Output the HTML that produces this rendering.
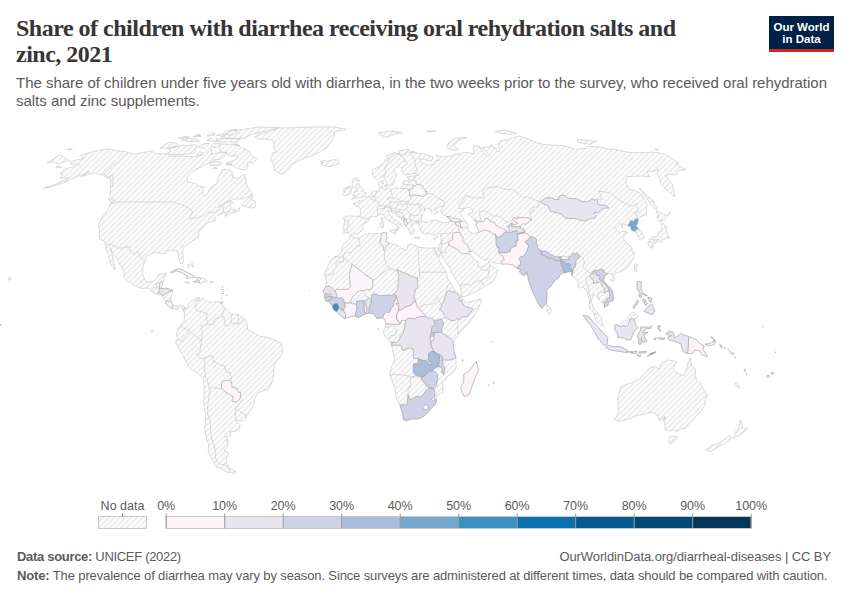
<!DOCTYPE html>
<html><head><meta charset="utf-8">
<style>
html,body{margin:0;padding:0;background:#fff;}
body{width:850px;height:600px;position:relative;overflow:hidden;font-family:"Liberation Sans",sans-serif;}
.t{position:absolute;white-space:nowrap;}
#title{left:16px;font-family:"Liberation Serif",serif;font-weight:bold;font-size:24px;letter-spacing:-0.5px;color:#363636;line-height:25.6px;}
#sub{left:16px;font-size:15px;letter-spacing:-0.02px;color:#5a5a5a;line-height:18px;}
#logo{position:absolute;left:769px;top:16px;width:65px;height:33px;background:#002147;border-bottom:3px solid #ce261e;color:#fff;font-weight:bold;font-size:11.5px;line-height:12px;text-align:center;}
svg{position:absolute;left:0;top:0;}
.leg{font-size:12.5px;line-height:15px;color:#5b5b5b;text-align:center;}
.foot{font-size:13px;line-height:16px;color:#5b5b5b;}
</style></head>
<body>
<div class="t" id="title" style="top:16.3px">Share of children with diarrhea receiving oral rehydration salts and<br>zinc, 2021</div>
<div class="t" id="sub" style="top:73.7px">The share of children under five years old with diarrhea, in the two weeks prior to the survey, who received oral rehydration<br>salts and zinc supplements.</div>
<div id="logo"><div style="padding-top:4.7px">Our World<br>in Data</div></div>
<svg width="850" height="600" viewBox="0 0 850 600">
<defs>
<pattern id="hatch" patternUnits="userSpaceOnUse" width="4" height="4" patternTransform="rotate(-45 2 2)">
<rect x="-1" y="-1" width="6" height="6" fill="#fff"/>
<path d="M -1,2 l 6,0" stroke="#dcdcdc" stroke-width="1"/>
</pattern>
</defs>
<path d="M69.8,161.7L75.6,160.1L83.5,158.7L82.7,157.8L80.7,155.5L83.5,154.3L95.1,151.2L107.4,148.9L113.4,149.9L117.6,151.0L125.8,151.6L127.9,152.6L134.5,154.1L140.9,152.9L151.7,150.8L155.6,153.2L166.2,154.3L172.7,156.3L179.9,155.8L189.3,156.7L196.1,156.7L201.6,155.2L209.7,147.8L211.6,149.3L211.5,154.5L219.9,152.3L226.4,152.5L225.5,154.9L220.6,159.4L214.4,159.6L210.8,162.4L203.3,165.4L200.9,167.0L191.2,172.4L187.2,177.7L187.5,182.1L195.3,183.3L199.3,186.5L204.3,186.7L202.2,192.0L204.1,196.2L206.9,194.5L210.1,188.2L216.9,183.3L217.3,179.7L220.3,173.6L222.2,169.4L227.6,169.4L232.0,171.3L232.6,177.2L237.6,178.4L244.6,173.9L245.9,180.9L247.4,186.5L251.2,192.0L252.9,194.5L249.9,195.7L242.8,199.0L234.8,199.0L228.0,201.3L223.2,203.3L217.3,207.4L219.9,205.9L225.2,203.3L229.9,201.5L233.2,202.6L230.8,204.8L230.5,208.9L236.3,210.2L240.2,207.4L239.2,210.7L230.1,213.6L225.6,216.4L225.5,213.6L229.7,211.5L224.2,212.5L224.1,212.8L216.9,215.6L214.7,218.5L215.3,220.5L211.8,221.6L205.9,223.6L203.6,227.8L201.3,228.3L198.8,233.0L198.7,237.7L192.6,240.9L189.2,242.9L184.3,246.9L182.7,250.3L183.5,260.5L182.3,263.9L180.7,264.1L178.4,257.9L178.4,253.4L176.7,251.3L172.5,250.3L168.1,250.0L164.5,253.9L160.7,253.2L154.2,252.4L151.7,253.4L145.9,257.3L144.9,262.0L144.5,262.0L142.9,267.0L142.5,273.6L144.6,279.6L147.8,282.5L153.7,281.1L157.5,278.0L158.4,274.9L166.1,273.3L166.4,274.6L164.6,277.0L164.2,278.8L162.9,281.9L162.4,284.3L161.5,286.9L159.3,288.2L159.9,288.2L160.5,288.5L161.4,288.7L166.5,288.2L172.7,290.6L171.2,297.1L170.6,301.3L171.1,301.0L172.1,303.6L172.9,304.7L175.4,306.3L180.1,304.9L184.8,307.0L183.5,311.0L182.4,308.3L180.0,306.8L177.8,308.3L177.9,310.4L174.6,308.3L172.0,308.6L170.7,307.8L165.6,303.6L166.1,300.8L163.7,298.4L162.8,296.1L162.2,295.3L161.7,294.7L157.8,294.7L158.6,292.1L156.5,294.0L153.4,293.2L151.9,291.9L148.3,287.7L142.4,288.7L135.0,285.9L129.6,282.7L123.3,276.4L124.9,273.6L122.9,269.1L119.2,263.9L116.1,257.9L113.3,253.9L109.8,247.4L111.8,253.2L112.7,257.9L114.6,266.5L114.9,269.9L111.1,264.9L108.5,257.1L108.5,255.2L106.1,250.0L105.4,244.8L104.0,240.9L99.7,239.5L99.2,234.1L99.4,230.9L98.7,226.5L98.6,224.2L102.1,217.4L108.1,209.2L110.2,203.6L113.8,203.3L114.0,202.0L115.1,201.3L113.2,198.2L110.1,195.7L110.7,188.7L112.8,186.3L110.2,187.0L110.9,180.9L110.3,178.4L106.6,177.5L104.0,176.0L101.9,174.8L97.5,174.6L94.7,172.9L88.6,174.3L80.7,176.7L89.6,171.7L78.4,176.0L68.4,180.9L58.8,184.5L50.4,187.0L43.5,188.2L54.9,184.5L68.8,178.0L64.1,178.0L60.0,178.0L63.2,175.5L59.9,173.6L65.4,168.9L74.1,166.6L79.5,164.0L71.1,164.2ZM185.0,307.3L186.1,308.9L188.1,305.2L189.4,302.6L191.1,301.0L192.5,300.5L197.8,297.4L199.4,297.6L199.3,298.9L198.5,301.0L198.4,301.8L202.3,298.1L204.5,299.7L209.0,302.1L215.9,302.1L220.5,301.8L223.7,307.6L224.8,307.6L229.3,312.0L231.1,314.4L236.1,314.1L238.4,314.9L241.9,316.7L243.9,318.8L245.3,319.3L247.5,324.6L247.5,329.8L250.9,331.1L260.2,336.3L266.0,337.1L274.1,339.5L281.8,344.2L282.6,351.0L281.3,355.4L274.7,363.8L273.8,369.0L273.7,376.1L271.8,382.9L268.2,390.0L265.5,390.0L258.7,392.6L254.3,399.1L254.7,402.0L252.4,407.0L250.2,410.9L248.2,413.8L246.1,418.0L243.4,421.1L240.5,421.1L236.8,420.1L235.3,418.7L235.1,419.3L235.6,420.3L238.6,423.4L240.2,424.8L239.4,429.2L235.5,431.3L230.3,431.8L229.8,431.5L230.7,436.0L225.1,436.5L228.9,440.9L226.4,440.9L227.8,442.2L227.8,447.3L224.1,449.9L228.6,453.0L226.7,457.6L226.2,464.1L228.1,465.9L228.0,466.6L228.7,467.6L236.3,471.9L233.3,473.8L230.5,472.4L227.9,472.6L221.4,468.9L216.3,466.4L212.2,460.1L209.0,453.7L208.1,451.2L208.8,444.8L207.1,440.9L205.8,434.4L204.5,426.6L205.0,426.1L205.8,416.1L204.4,408.3L203.7,401.7L204.3,391.5L203.7,382.1L203.0,378.2L198.8,374.3L190.3,369.0L188.1,365.1L186.0,361.2L182.4,354.7L178.8,348.1L175.4,342.1L177.6,338.7L178.2,337.6L176.1,335.6L177.9,328.5L178.8,327.2L180.9,326.1L180.9,325.1L184.0,320.6L184.7,314.1L183.5,311.0ZM434.3,247.9L429.1,248.2L423.1,247.7L418.2,247.1L415.9,245.8L411.3,243.7L407.3,245.8L406.2,250.5L402.8,249.2L396.4,245.0L392.0,243.7L388.2,242.9L386.9,241.4L385.1,241.1L386.6,239.0L387.2,237.7L385.8,235.1L387.0,232.8L385.3,233.3L384.4,232.2L381.6,233.3L379.9,233.3L373.8,233.8L369.5,233.5L365.2,234.3L361.7,236.4L358.2,238.0L355.4,237.7L351.5,235.9L350.4,236.2L348.1,240.9L346.4,241.9L342.8,244.8L341.7,250.3L340.5,253.9L337.4,256.0L334.2,256.8L330.5,261.3L327.2,267.5L324.2,275.4L326.2,278.8L326.6,282.5L325.3,287.2L322.9,291.3L324.5,293.7L324.6,294.2L324.7,294.5L324.6,295.4L324.4,297.4L324.7,297.9L326.2,301.0L328.5,301.2L329.7,302.3L331.5,304.9L332.4,306.1L332.6,307.6L334.2,310.2L336.7,311.7L338.1,313.3L342.2,316.7L345.2,318.3L351.5,316.5L353.8,315.9L355.8,316.5L358.2,317.5L362.5,315.4L365.8,313.8L366.7,313.6L368.5,313.2L369.2,313.1L370.8,313.1L373.4,313.6L375.7,316.7L376.9,318.6L380.3,318.0L382.6,317.8L384.9,319.3L385.6,322.5L385.6,323.8L385.6,326.9L384.7,328.8L383.1,331.6L384.9,336.3L388.4,339.7L390.5,342.4L392.5,342.2L391.1,344.2L391.6,345.5L392.9,352.0L393.4,352.8L394.3,358.6L393.7,362.8L391.6,366.4L389.9,373.0L389.9,375.1L391.4,379.5L393.6,384.7L395.5,389.7L395.8,395.2L396.6,399.4L399.8,404.6L401.3,409.6L402.7,413.5L403.3,418.5L403.4,419.7L406.6,420.8L411.1,419.0L419.0,418.7L424.3,416.1L428.1,412.2L431.8,408.0L435.2,404.6L436.6,400.0L436.6,397.8L437.0,395.2L443.0,392.6L442.8,387.4L442.0,381.6L446.0,379.2L447.3,376.6L452.0,373.5L455.7,369.0L456.2,367.7L456.0,361.2L455.9,357.3L454.2,352.0L453.6,347.6L453.0,342.9L453.5,342.0L454.7,340.3L455.6,338.2L457.7,335.6L459.0,334.1L461.2,330.8L467.7,324.6L472.6,318.0L476.0,312.8L479.9,304.9L481.2,302.6L480.8,298.9L476.0,300.2L466.5,302.6L462.4,298.7L461.7,301.1L462.3,299.8L462.2,299.5L460.3,297.1L460.9,295.8L458.1,293.2L453.3,289.0L450.7,282.7L447.5,278.5L446.5,272.2L443.2,267.3L440.4,262.3L438.6,258.4L435.3,251.6ZM434.3,247.9L438.5,247.9L439.9,244.0L440.0,243.2L441.2,244.3L441.5,242.7L440.6,240.9L441.3,239.0L440.7,236.2L440.9,235.9L441.3,234.1L439.8,234.1L437.8,233.5L433.5,235.4L429.3,233.3L425.7,234.1L422.0,233.0L420.5,229.4L418.9,226.5L419.0,224.9L419.3,223.6L418.1,223.1L418.7,220.8L417.9,223.0L413.9,223.1L413.0,225.2L411.6,223.6L411.1,225.2L412.7,227.8L414.6,230.7L412.8,234.3L409.9,233.5L408.6,230.9L408.7,229.4L407.3,227.8L405.7,226.0L404.2,223.9L404.1,220.5L405.2,218.6L403.9,220.3L403.0,219.5L402.8,216.9L401.9,218.7L401.0,218.5L397.3,216.1L395.5,211.8L394.2,213.6L391.4,212.3L391.5,210.7L391.1,208.4L391.1,210.7L391.1,211.0L388.4,211.2L388.6,213.6L391.2,215.9L393.5,219.5L396.9,220.3L398.8,222.3L401.2,223.6L402.2,225.7L399.6,224.2L398.2,226.5L399.6,228.1L397.4,230.7L396.5,229.6L397.6,227.0L396.2,224.9L393.1,223.1L390.5,221.8L389.0,220.8L386.1,218.7L384.5,216.1L381.5,213.8L378.2,215.6L375.6,217.2L374.3,216.7L372.6,216.4L369.7,217.4L369.7,219.0L369.7,219.2L367.7,221.6L364.9,222.6L364.7,223.4L362.4,226.5L363.4,228.6L361.9,229.9L360.8,231.5L358.2,233.8L353.5,233.8L351.3,235.4L350.9,235.6L349.4,234.3L347.0,232.5L345.9,233.0L343.6,233.0L344.1,229.1L342.6,228.3L343.8,225.2L344.6,222.1L344.2,220.3L344.2,220.0L343.5,217.7L345.4,216.4L348.4,215.9L352.6,216.1L356.7,216.4L359.2,216.4L359.9,216.1L360.5,213.3L360.7,211.0L360.5,209.2L358.5,206.6L355.9,205.4L353.4,204.6L353.3,203.6L355.9,202.6L359.0,203.1L359.2,200.3L360.6,201.0L363.2,200.8L366.0,199.0L366.8,197.0L368.0,196.7L369.6,196.0L370.9,194.7L372.2,192.5L372.4,192.0L374.7,191.0L377.1,191.2L379.6,190.5L379.9,189.7L379.6,187.2L378.6,185.8L378.6,182.6L383.0,180.4L382.9,181.6L382.5,184.0L383.6,183.3L381.9,186.3L382.4,188.2L382.8,188.5L384.2,189.5L386.3,189.0L389.1,188.0L390.6,189.7L394.1,188.7L396.8,187.5L399.1,188.5L401.0,188.2L401.6,187.2L403.5,185.3L403.1,184.3L402.9,182.6L403.8,181.1L405.6,180.4L408.7,182.1L408.9,179.7L408.7,178.9L406.8,177.2L408.8,176.3L414.9,176.0L418.8,175.1L416.4,174.3L415.6,173.2L409.0,174.3L405.5,175.3L403.8,173.9L401.7,171.3L401.7,167.5L407.6,163.1L405.1,161.2L401.6,161.7L400.1,164.2L399.1,165.9L397.0,167.3L394.2,169.1L394.4,172.4L394.5,173.2L397.1,174.3L396.6,176.5L394.8,178.4L394.2,180.9L394.2,182.8L393.2,184.3L390.5,185.8L388.0,185.5L387.3,184.5L385.4,180.4L384.0,178.4L384.2,177.2L382.5,176.7L382.8,175.1L380.7,177.2L378.0,179.4L376.2,179.7L373.6,177.5L372.7,173.9L372.1,171.3L372.4,169.6L374.2,168.9L376.4,167.7L379.9,166.1L381.5,164.2L384.7,161.0L387.7,157.8L386.7,155.6L389.9,154.5L394.7,152.5L398.2,153.8L399.4,151.2L402.0,150.3L405.3,149.5L408.9,149.7L411.3,152.3L414.4,151.0L412.9,152.3L414.6,152.3L418.2,153.2L423.4,153.8L432.8,156.7L432.3,160.1L430.7,160.6L423.5,159.6L418.8,158.5L423.6,163.1L428.6,165.4L434.4,164.0L435.1,160.8L439.3,160.3L436.1,154.9L441.4,156.9L444.8,156.9L452.8,155.6L454.7,154.3L460.5,154.3L463.2,152.9L463.6,152.1L474.5,153.6L474.3,151.8L473.0,148.6L474.3,145.6L479.5,146.3L480.8,149.3L484.8,154.1L488.3,156.9L489.7,155.2L485.1,150.8L481.5,148.0L485.8,147.1L490.1,146.5L490.8,144.4L494.2,147.5L496.7,148.6L496.7,151.8L500.0,150.8L498.0,144.4L499.9,141.3L508.6,139.3L518.7,135.9L525.0,137.7L538.1,143.3L543.3,144.4L553.0,145.2L561.3,145.4L567.4,146.5L575.4,149.7L579.8,148.6L586.3,148.6L588.3,146.5L598.6,146.9L607.5,148.6L615.6,149.7L629.6,152.5L638.3,152.7L646.0,152.3L655.9,152.3L665.7,154.3L679.0,163.1L675.6,163.8L686.1,169.4L678.6,170.5L676.7,174.8L669.3,174.8L665.3,175.3L668.5,179.7L672.4,184.0L673.0,188.2L675.0,197.0L665.9,189.5L660.2,183.3L660.6,180.1L656.9,173.6L658.4,168.9L654.0,171.3L646.8,171.3L649.4,176.7L643.0,176.0L634.0,176.3L627.0,176.7L626.2,179.7L625.9,183.3L629.3,189.2L638.1,191.5L640.6,193.2L644.8,199.5L647.6,204.6L646.3,207.1L646.4,214.8L639.5,217.2L638.0,219.2L637.8,222.6L636.0,226.0L638.5,228.8L643.7,235.6L643.9,238.0L639.2,239.8L637.4,235.6L636.2,232.0L634.5,231.2L631.8,230.4L630.3,226.5L627.8,225.5L622.2,223.9L622.6,228.3L620.7,223.1L618.6,225.2L616.5,227.5L615.0,228.1L618.4,231.7L619.8,232.5L622.8,230.9L627.1,232.0L624.3,235.4L623.1,238.8L627.1,243.5L630.9,246.6L632.6,249.0L631.2,250.5L633.8,251.8L634.1,256.6L631.8,260.5L628.6,266.0L626.3,268.8L621.7,270.9L621.1,271.5L616.4,272.8L613.2,276.7L611.3,273.6L609.7,273.6L607.5,273.6L604.8,275.4L603.8,278.8L603.7,280.9L606.0,284.0L608.6,286.6L610.2,287.7L612.5,291.9L613.6,297.9L613.0,300.5L609.0,302.3L608.1,304.9L604.3,307.3L604.5,303.6L603.2,302.6L601.0,302.3L599.3,299.5L597.0,297.1L594.3,294.7L593.3,294.5L592.2,297.1L591.1,302.3L592.9,305.7L594.1,309.4L596.5,311.7L598.5,313.6L601.7,318.0L601.8,322.0L603.8,326.1L602.8,326.4L601.9,325.9L598.6,323.3L597.0,322.0L595.0,318.0L594.4,315.7L593.8,312.8L589.9,308.9L589.2,304.9L589.6,304.2L589.4,299.2L586.6,291.1L583.1,286.6L580.1,288.2L578.3,287.2L578.1,281.4L575.4,278.8L573.8,277.2L572.2,275.6L571.3,273.8L572.4,272.2L570.5,271.5L567.6,272.0L564.4,272.8L562.2,273.3L560.1,274.9L558.9,277.7L556.2,279.3L552.8,283.5L550.9,286.4L548.5,288.2L546.5,290.6L547.1,295.5L546.5,299.7L546.7,302.9L544.8,305.5L541.5,308.6L538.3,303.6L536.1,298.9L534.6,296.1L531.7,289.3L528.5,280.1L527.5,274.9L526.9,271.7L526.1,274.3L522.8,275.4L519.0,271.5L521.0,269.9L517.5,268.3L515.1,267.0L513.5,264.9L508.0,263.9L503.0,264.1L501.4,263.9L499.2,263.6L492.1,262.6L488.9,258.9L485.1,260.2L480.3,257.9L476.0,253.9L472.8,251.1L470.7,251.5L470.6,251.6L469.5,251.5L469.7,252.9L470.9,255.2L471.1,255.2L473.8,259.2L475.3,260.7L477.8,261.5L479.0,263.9L477.3,265.2L477.8,265.4L478.2,265.7L479.2,266.5L480.2,267.0L485.4,265.7L487.3,263.6L488.7,262.3L489.2,261.0L489.8,264.7L495.1,268.1L498.1,270.9L495.7,276.2L494.4,280.1L491.7,282.7L486.2,285.3L484.2,286.4L482.3,288.5L476.3,291.6L466.2,296.3L462.6,296.6L461.9,296.6L460.6,289.3L460.7,286.9L460.0,285.6L456.2,280.1L451.7,273.6L449.8,268.1L446.1,263.1L442.3,257.1L440.8,252.9L440.8,252.6L440.5,252.6L439.4,257.1L435.3,251.6ZM351.6,199.4L355.0,198.6L357.0,197.7L360.4,197.5L365.8,196.5L366.3,193.0L363.6,192.2L363.2,190.5L362.0,188.2L360.1,186.5L359.2,184.8L357.3,184.5L358.2,183.3L359.6,180.6L356.4,180.4L357.4,178.2L353.7,178.2L352.0,180.9L352.3,183.3L352.2,186.3L353.5,187.5L356.6,187.2L356.4,189.0L357.3,191.2L354.0,191.2L354.7,192.5L354.7,194.0L352.7,195.2L356.6,196.0L354.0,196.7ZM351.2,194.0L351.1,190.7L350.9,189.2L352.3,188.2L351.1,186.5L348.9,186.7L348.6,186.3L346.6,187.7L343.6,189.0L344.0,191.2L344.3,193.0L342.4,194.5L344.2,195.7L347.2,195.0L350.4,194.0ZM323.0,165.6L325.7,165.9L330.0,166.8L335.6,164.7L339.1,162.8L337.9,160.3L335.4,159.6L330.9,160.3L327.3,161.5L325.0,159.9L320.2,161.9L323.9,163.1L320.8,163.5ZM379.2,134.4L385.6,137.3L390.0,136.3L393.9,134.4L402.1,132.5L391.5,130.8L386.0,131.8L378.9,132.5ZM447.8,148.6L455.3,150.5L458.4,150.1L454.1,145.4L458.7,140.3L466.0,137.7L467.2,137.3L454.3,138.3L448.2,143.3L447.2,147.5ZM501.8,133.5L510.3,134.4L516.4,133.5L504.3,129.9L495.1,131.6ZM577.6,142.3L590.1,144.4L596.3,141.3L577.6,139.3ZM655.3,209.7L657.5,208.4L652.1,202.0L654.8,202.0L645.6,194.5L640.5,188.7L639.6,188.7L645.8,197.0L651.2,204.6ZM648.9,239.8L651.2,237.2L657.4,236.7L658.3,232.2L661.1,230.9L661.9,226.5L659.9,223.1L661.7,221.6L663.6,223.9L666.2,226.5L666.2,230.4L668.4,235.6L669.7,238.2L666.9,237.5L665.7,239.0L661.9,239.3L661.0,242.2L657.7,239.5L653.4,239.8ZM658.8,221.3L660.9,220.5L664.8,220.0L667.4,216.7L665.1,214.8L656.2,211.0L658.7,216.1L656.7,216.9ZM647.8,241.9L649.6,241.1L652.8,243.5L653.0,247.9L650.7,248.2L647.8,243.5ZM653.9,243.5L657.8,241.4L656.2,240.1L653.2,240.9ZM634.3,269.6L634.9,263.9L637.3,264.4L636.4,272.2ZM610.1,279.6L613.8,277.2L615.1,278.5L612.3,282.2ZM547.0,312.0L546.9,304.9L550.2,307.6L551.6,311.5L548.7,314.4ZM582.8,315.2L588.0,316.2L594.7,323.3L602.8,332.4L607.8,337.6L607.0,345.0L604.0,345.2L598.5,339.0L594.8,332.4L590.6,325.4ZM605.5,347.6L609.3,345.5L613.2,346.8L619.0,346.5L622.8,347.9L626.8,349.9L626.6,352.6L618.7,351.3L611.8,350.2L606.2,347.9ZM614.8,325.1L616.2,324.6L619.5,325.6L624.0,321.4L628.8,316.7L630.5,314.1L633.9,312.0L638.0,316.2L635.4,318.3L634.5,318.8L635.2,324.6L638.0,327.4L634.5,331.1L632.1,336.3L630.8,339.7L627.4,340.3L624.0,337.9L619.4,337.6L617.5,337.4L617.2,332.9L614.9,329.8ZM638.7,344.2L641.0,344.2L641.3,337.6L643.4,342.4L646.9,341.6L643.7,335.0L648.1,332.4L642.6,332.4L646.1,328.5L650.7,328.5L651.8,325.9L649.5,327.2L640.3,327.2L640.8,329.8L639.1,332.4L637.4,336.3L639.0,339.0ZM665.7,333.7L669.2,331.1L673.1,332.2L674.8,338.4L680.7,333.7L688.7,336.6L696.6,339.7L699.9,343.7L703.9,345.5L702.9,349.4L707.9,356.7L701.7,354.7L699.3,350.7L694.8,349.9L692.9,353.3L687.6,353.6L682.7,351.3L680.9,343.7L674.6,341.3L669.6,340.3L667.9,337.1L671.4,335.8ZM637.2,281.4L641.1,281.4L641.3,285.3L641.0,289.3L642.9,293.2L647.4,295.8L645.8,295.8L641.3,293.4L639.2,292.7L637.1,287.9ZM644.2,311.5L647.4,307.6L651.7,304.2L654.8,310.7L652.5,314.9L649.0,313.3ZM647.0,356.5L650.7,353.3L656.2,351.8L651.8,354.4L650.9,354.7L648.1,356.7ZM476.2,361.2L478.5,370.3L475.5,376.4L473.0,383.4L468.9,394.7L464.5,396.5L461.5,391.3L461.0,386.8L463.8,381.6L463.8,374.3L469.3,371.1L472.5,366.4ZM690.6,357.8L691.7,366.4L695.4,369.0L695.7,376.1L696.6,380.3L700.9,383.4L703.0,388.7L706.9,395.7L705.3,401.7L705.2,404.6L701.3,410.9L696.4,415.9L694.1,418.5L689.1,423.4L686.1,427.9L681.2,428.9L676.2,432.1L673.6,429.7L669.3,431.3L665.1,429.2L665.0,425.3L664.8,421.1L665.4,417.4L662.3,421.9L665.1,416.1L658.9,421.1L657.9,415.6L652.2,412.2L644.9,414.0L635.3,416.1L629.9,418.5L620.1,421.4L614.3,419.8L616.1,417.4L618.0,413.5L618.5,407.0L617.6,397.8L620.9,386.8L627.1,384.0L632.0,382.9L639.3,379.5L641.3,376.9L644.9,373.0L650.3,367.7L655.1,366.4L659.3,369.0L661.1,363.8L663.2,362.2L667.3,359.9L675.0,361.2L676.8,361.7L674.7,365.1L673.0,369.0L676.9,373.0L683.9,375.6L686.7,369.0L687.9,362.5ZM670.1,436.2L677.4,436.7L672.8,442.7L669.6,443.7L668.5,440.4ZM740.1,419.8L741.9,423.4L742.1,427.9L747.3,428.4L743.8,432.1L738.9,435.2L733.0,438.5L732.3,437.8L735.9,434.1L734.4,432.6L738.4,429.2L740.0,422.7ZM729.9,435.7L730.9,438.8L726.0,442.2L723.5,444.2L718.6,446.0L714.4,449.6L709.6,451.4L705.7,449.9L710.9,446.0L720.3,442.2L724.8,439.1ZM282.2,174.6L278.7,173.2L274.3,170.1L273.4,165.4L272.2,161.9L270.2,160.1L271.6,157.4L272.8,152.9L277.5,151.8L274.7,150.1L273.7,146.5L273.8,142.1L271.5,139.7L265.2,138.9L258.8,139.3L254.8,136.7L258.4,134.4L266.0,132.5L271.9,130.8L278.0,128.0L294.0,127.7L308.1,127.0L321.9,126.9L334.0,126.9L345.9,129.4L334.1,131.6L334.8,135.4L332.9,138.1L331.9,141.3L328.9,144.4L327.4,147.5L323.5,149.7L318.3,152.7L312.1,155.8L304.5,158.1L296.6,161.9L291.8,164.5L289.5,167.7ZM242.0,205.6L249.3,207.9L254.4,207.9L255.9,204.6L255.2,201.3L251.6,199.8L252.9,195.7L248.1,198.2L243.1,203.3ZM112.6,203.6L110.6,202.0L108.2,198.2L111.8,198.7L113.0,201.5ZM210.4,165.4L219.0,165.9L221.7,163.1L215.4,160.8L210.3,163.1ZM170.8,272.6L173.2,270.7L177.1,269.2L179.8,269.1L183.4,270.4L187.0,272.5L191.5,274.6L194.8,277.0L192.3,277.7L186.6,277.9L188.1,276.6L186.2,275.5L183.5,273.6L181.1,272.1L178.8,271.7L176.6,270.7L174.2,271.7L172.3,272.5ZM193.6,281.5L195.8,281.3L197.6,280.9L197.6,279.3L196.3,278.1L197.8,277.6L200.2,278.0L204.0,278.3L205.7,279.3L207.5,281.1L203.9,281.7L202.5,282.2L200.3,283.8L199.7,282.7L197.9,282.2L195.7,282.2L194.1,281.9ZM184.8,281.7L189.5,282.7L187.6,283.2ZM210.1,281.4L213.7,281.9L212.7,282.7L209.9,282.7ZM256.9,159.4L254.6,157.2L250.7,153.6L249.7,151.2L246.5,149.7L242.0,148.0L239.1,146.5L236.3,144.0L228.0,144.4L220.6,143.8L218.7,148.6L220.2,151.8L226.4,152.5L226.9,154.1L230.5,156.3L237.5,155.8L237.6,158.5L232.7,160.8L226.1,163.1L232.4,164.2L225.9,164.7L233.5,165.4L237.2,168.4L243.5,170.1L246.8,168.9L248.0,166.6L247.7,161.9L252.4,163.1ZM194.5,152.7L195.9,150.3L194.0,149.7L198.0,146.5L195.2,144.6L186.7,145.8L182.6,145.2L179.0,146.3L172.9,146.7L168.8,148.4L169.3,150.5L170.8,151.4L167.1,153.4L171.0,154.5L179.3,154.7L186.6,154.1ZM176.3,146.5L168.2,148.6L160.0,148.0L165.3,144.4L169.5,142.3L176.9,143.3L179.1,144.8ZM199.7,141.3L191.4,141.7L181.5,140.3L188.1,138.3L197.5,139.3ZM189.4,137.3L179.6,138.9L178.3,137.7L187.8,136.3ZM212.1,141.3L207.0,140.3L210.9,138.3L212.8,139.3ZM237.8,142.1L219.1,142.1L216.1,139.1L228.0,137.9L240.4,139.3ZM244.3,138.3L227.2,138.7L220.7,136.3L232.0,130.8L260.3,126.9L278.8,127.7L264.3,131.3L251.0,134.4ZM232.3,135.4L221.6,134.4L226.3,130.8L236.5,129.4L237.0,132.5ZM204.9,148.6L198.6,147.5L201.0,144.4L209.2,143.3ZM216.4,147.5L210.1,146.5L214.1,143.1L219.9,143.8ZM201.6,155.2L196.1,154.7L199.4,151.8L202.4,152.3ZM414.1,237.5L420.2,237.5L419.6,238.2L414.4,237.7ZM433.4,238.8L434.8,237.2L438.2,236.4L437.1,238.5L435.0,239.3ZM389.7,230.4L396.5,229.6L395.7,233.8L389.9,231.5ZM380.4,222.9L383.8,222.3L383.5,227.5L381.2,227.8ZM381.0,217.7L382.9,217.9L382.5,221.6L381.1,220.3ZM384.2,186.0L387.1,184.5L386.7,187.0L384.6,186.7ZM655.1,149.3L656.4,148.6L658.6,149.9ZM69.6,148.6L72.6,149.3L67.4,149.9ZM60.3,154.3L64.0,157.4L67.7,159.0L68.6,160.6L63.5,161.9L57.7,164.2L55.0,162.4L51.3,161.9L47.0,163.1ZM57.8,165.9L61.6,167.0L59.5,167.5L56.0,167.0ZM9.1,277.0L11.3,278.8L8.7,280.4ZM638.7,294.5L641.6,295.3L641.2,297.9L639.5,296.8ZM632.9,307.8L637.5,300.2L638.4,302.3L633.9,308.3ZM648.2,297.1L651.6,298.4L650.9,303.1L648.5,299.7ZM643.1,298.9L646.0,300.2L644.6,302.1L643.3,302.3ZM645.2,301.0L647.3,303.1L646.1,306.0L644.6,303.9ZM490.9,341.8L491.3,342.1L491.1,341.6ZM638.9,352.0L646.3,351.3L645.7,352.8L639.3,353.1ZM632.0,352.0L637.1,351.3L636.5,353.1L632.1,353.3ZM626.7,351.0L629.5,351.8L628.2,352.8ZM629.9,351.5L631.8,351.3L631.0,353.1ZM636.8,354.7L641.1,355.7L638.9,356.7ZM657.6,325.9L660.6,325.9L658.8,328.5L660.9,331.6L658.6,329.5ZM658.4,337.6L665.1,338.4L663.2,339.7L659.0,339.0ZM653.8,338.2L656.8,338.4L655.1,340.0ZM705.1,344.2L710.2,343.7L713.9,340.8L714.4,344.2L708.9,346.0ZM710.6,336.9L715.1,340.8L716.1,342.4L712.9,337.6ZM719.7,344.2L722.5,346.8L721.0,347.6ZM729.9,351.8L733.1,353.6L731.2,354.7ZM732.8,352.0L734.2,354.7L733.2,354.9ZM744.5,369.6L745.4,370.6L744.4,371.1ZM735.6,382.6L740.5,387.9L739.3,388.4L734.8,384.0ZM767.1,375.6L769.8,375.8L768.7,377.7L767.0,377.1ZM771.3,372.4L773.9,373.0L771.8,374.3ZM151.6,330.3L153.2,331.1L152.0,332.4ZM327.8,256.3L328.8,256.8L328.2,257.3ZM308.8,290.0L309.5,290.6L309.0,290.8ZM493.3,382.1L494.2,382.4L493.4,383.4ZM488.1,384.5L489.4,385.0L488.4,385.8ZM462.2,359.6L462.9,360.9L462.2,360.9ZM187.8,266.2L189.0,264.1L188.1,267.8ZM192.3,263.1L190.3,264.7L193.1,267.0ZM220.7,301.8L223.0,301.5L222.5,303.4L220.6,303.4ZM0.1,324.4L1.2,324.8L0.3,325.6ZM378.0,328.8L378.6,329.0L378.0,329.7ZM221.9,287.2L223.3,286.9L222.5,287.9ZM222.5,289.0L223.0,289.3L222.6,290.0ZM223.0,291.0L223.7,291.3L223.1,292.1ZM223.3,292.9L223.5,293.4L223.1,294.0ZM226.3,295.0L226.7,295.4L226.3,295.7ZM221.2,297.8L221.6,297.9L221.2,298.4ZM221.8,284.9L222.3,285.1L221.9,285.3ZM723.8,347.1L726.2,348.9L724.8,349.2ZM727.6,349.2L731.0,351.5L730.3,352.0ZM734.0,356.5L736.1,358.1L734.3,357.5ZM745.1,368.5L745.8,369.8L744.9,372.2L743.9,370.3ZM746.5,373.0L747.1,374.3L746.3,375.8ZM775.5,351.8L775.9,352.3L775.4,352.6ZM762.5,325.9L763.0,326.4L762.5,326.7ZM-33.1,364.9L-29.9,366.2L-32.2,365.9ZM219.7,135.4L216.2,135.8L218.9,133.9L220.6,134.2ZM213.7,135.4L206.8,136.1L211.8,132.9L215.2,133.7ZM201.3,136.3L193.2,136.7L196.6,135.4L200.8,135.6ZM200.4,134.8L196.6,135.4L199.6,133.9ZM217.1,141.7L213.4,141.5L215.5,140.3L218.0,140.1ZM239.7,145.6L233.8,145.0L237.3,143.8ZM217.4,168.4L212.6,168.9L214.6,167.3ZM426.5,130.9L431.6,131.1L436.2,130.6L433.3,131.6L429.2,131.8ZM667.9,215.9L669.4,213.6L670.0,211.5Z" fill="url(#hatch)" stroke="#c2c2c2" stroke-width="0.6"/>
<path d="M358.2,238.0L359.1,239.8L359.3,242.9L360.4,245.8L356.6,246.3L354.8,249.0L350.6,252.6L347.2,252.4L343.7,254.5L343.6,257.4M343.6,257.4L334.2,256.8M343.6,257.4L343.6,258.4M343.6,258.4L352.1,264.4M343.6,258.4L343.6,261.8L336.1,261.8L335.9,268.5L333.4,270.3L333.6,274.0L324.2,275.4M352.1,264.4L349.4,274.1L350.4,286.6L348.1,289.3L339.0,289.5L336.9,289.0L335.1,291.2M335.1,291.2L332.6,288.5L329.9,286.4L326.5,286.6L325.3,287.2M352.1,264.4L365.7,274.9L372.7,279.7M372.7,279.7L372.7,285.6L371.2,289.3L366.0,289.8L363.5,290.8M363.5,290.8L361.9,290.3L358.4,291.3L354.7,294.5L352.9,296.6L351.1,300.0L350.4,302.5M350.4,302.5L348.7,303.1L346.9,303.1L344.1,302.9M344.1,302.9L343.9,300.2L341.9,297.6L338.7,298.7L336.8,297.4M336.8,297.4L336.6,294.5L335.1,291.2M336.8,297.4L334.3,297.4L331.6,296.7M331.6,296.7L328.1,296.6L324.4,297.4M331.6,296.7L331.5,298.4L331.1,299.2L329.7,299.7L328.5,301.2M324.6,294.2L327.5,293.7L329.8,294.0L331.4,294.4L331.4,294.7M331.4,294.7L329.8,295.1L327.5,294.9L324.6,295.4M332.4,306.1L334.2,303.9L337.2,303.6L338.4,305.5L338.6,307.6L338.8,307.8M338.8,307.8L338.6,308.9L337.6,310.4L336.7,311.7M338.8,307.8L340.9,307.8L341.6,310.2L343.5,310.0M343.5,310.0L343.9,311.7L345.7,314.4L345.2,318.3M343.5,310.0L344.6,307.6L345.3,305.7L344.1,302.9M350.4,302.5L352.0,303.9L354.5,303.8L356.7,304.8M356.7,304.8L357.2,308.1L355.6,313.3L355.8,316.5M356.7,304.8L356.8,302.3L356.5,301.0L360.7,301.0L363.0,300.8M363.0,300.8L362.8,301.8L363.9,303.1L364.3,307.0L364.4,311.5L365.8,313.8M363.0,300.8L365.1,301.0M365.1,301.0L364.8,302.9L366.7,306.0L366.8,309.9L366.7,313.6M365.1,301.0L366.7,300.0L368.5,298.7M363.5,290.8L363.8,293.2L365.2,295.0L365.3,296.3L368.0,296.8L368.5,298.7M368.5,298.7L370.1,298.4L371.3,299.2M371.3,299.2L371.3,302.9L369.9,306.0L369.2,308.9L369.2,313.1M371.3,299.2L372.4,294.5L375.1,293.8L378.6,295.5L382.5,295.8L385.9,295.1L391.7,295.3L394.2,293.9M394.2,293.9L396.2,291.9L398.0,287.9L398.4,277.7L399.2,275.1L397.4,272.2L396.9,269.6M394.2,293.9L395.6,295.6M395.6,295.6L396.5,297.9L395.2,299.7L393.6,303.1L393.2,306.3L391.1,308.1L390.2,311.2L388.6,312.8L386.5,311.7L384.9,313.3L383.3,315.4L382.6,317.8M395.6,295.6L397.2,298.1L397.5,301.0L398.7,303.6L395.9,303.9L398.7,305.7L398.7,310.2M398.7,310.2L396.9,313.6L396.7,315.9L396.5,318.3L397.9,320.9L400.4,324.0M400.4,324.0L397.7,324.6L393.7,324.0M393.7,324.0L389.1,323.9M389.1,323.9L385.6,323.8M389.1,323.9L389.1,327.2L385.6,326.9M393.7,324.0L393.5,326.4L396.5,329.8L396.3,333.7L394.6,335.8L390.7,335.3L389.8,337.1L388.4,339.7M398.7,310.2L401.0,309.9L405.6,306.8L407.0,306.3L411.3,304.9L413.1,302.1L415.6,301.3M415.6,301.3L414.4,297.6L413.5,296.1L414.8,293.2L415.3,289.0L417.9,288.7L417.5,278.8M417.5,278.8L396.9,269.6M396.9,269.6L395.1,270.7L390.0,268.3M390.0,268.3L380.0,275.1L376.2,278.9L372.7,279.7M390.0,268.3L385.9,264.9L385.2,260.5L384.2,257.9L384.8,252.9L384.1,250.8M384.1,250.8L385.6,249.0L385.7,246.9L388.3,245.0L388.2,242.9M384.1,250.8L383.0,245.8L379.5,242.9L380.9,239.3L381.2,236.2L381.6,233.3M418.2,247.1L418.2,251.3L419.5,272.2M419.5,272.2L419.7,277.5L417.5,277.5L417.5,278.8M419.5,272.2L446.5,272.2M415.6,301.3L417.1,307.0M417.1,307.0L419.4,306.5L424.0,304.9L427.2,304.7L431.1,304.2L433.8,303.6L436.7,298.4L438.1,297.9L439.3,301.8L441.5,304.9M441.5,304.9L443.7,301.5L444.7,296.8L446.6,292.4M446.6,292.4L447.2,285.9L450.7,282.7M446.6,292.4L449.7,290.8L452.3,291.6L454.8,291.9L458.6,295.3L460.3,297.1M460.3,297.1L461.9,296.6M460.3,297.1L459.0,299.5L459.5,301.0L461.7,301.1M461.7,301.1L462.3,299.8M461.7,301.1L463.3,305.2L465.7,306.5L473.3,308.9L466.8,316.7L462.2,317.0L459.7,319.4M459.7,319.4L457.7,322.5L457.7,332.2L459.0,334.1M459.7,319.4L457.2,318.8L454.2,320.6L450.7,320.4L447.9,318.3L445.9,317.8M441.5,304.9L441.1,307.8L439.0,309.4L440.7,309.9L443.0,312.5L444.4,315.4L445.9,317.8M445.9,317.8L442.4,317.8L441.3,318.8M441.3,318.8L437.4,320.4L434.6,320.1L434.1,320.6M434.1,320.6L431.3,317.8L428.6,318.6L426.2,316.5M426.2,316.5L424.1,314.1L421.3,311.5L418.7,308.1L417.1,307.0M426.2,316.5L423.0,316.7L420.7,316.5L416.1,317.8L414.7,319.1L410.3,318.3L406.9,318.6L406.0,320.6M406.0,320.6L403.4,320.1L401.3,320.6L400.4,324.0M406.0,320.6L404.8,325.9L404.1,329.8L403.0,333.7L400.4,335.8L399.7,339.0L398.3,341.0L396.2,342.6L393.2,342.4L392.5,342.2M392.5,342.2L390.5,342.4M392.5,342.2L393.0,342.9L391.1,344.2M391.6,345.5L393.4,345.2L400.8,345.2L403.1,350.7L407.7,348.4L410.5,348.0L413.2,348.9L413.6,354.4L413.3,357.8L415.6,358.6L418.2,358.3M418.2,358.3L419.3,359.6L421.1,359.1L422.7,360.9L425.5,360.1L427.5,362.2L429.5,364.9L431.3,364.9L431.4,361.7L429.6,362.2L428.2,359.9L428.8,355.4L428.4,353.9L431.2,351.5L433.9,351.5M433.9,351.5L432.2,348.1L430.8,345.2L430.6,341.6M430.6,341.6L430.2,338.4L430.0,337.1M430.0,337.1L430.5,335.0L431.4,333.5M431.4,333.5L431.4,330.3L432.1,327.4L433.5,325.9L435.3,324.0L434.6,322.2L434.1,320.6M431.4,333.5L433.5,332.6M433.5,332.6L434.2,335.0L433.5,336.1M433.5,336.1L432.1,335.9L430.0,337.1M433.5,336.1L434.1,338.4L432.5,340.8L430.6,341.6M433.5,332.6L441.3,332.4M441.3,332.4L441.6,329.3L442.7,326.9L443.6,323.3L441.3,318.8M441.3,332.4L450.1,337.9L453.5,342.0M433.9,351.5L436.7,353.3L438.7,354.4M438.7,354.4L441.0,355.2L442.3,357.3L442.5,359.9M442.5,359.9L445.2,359.9L449.1,360.1L451.4,359.6L455.9,357.3M438.7,354.4L439.6,357.3L439.2,360.7L438.7,363.3L437.9,365.4L438.6,366.4M438.6,366.4L441.8,367.5L442.1,369.8L441.4,371.7L442.9,374.0L443.5,374.5L444.3,371.7L444.9,369.0L444.3,366.9L443.0,365.1L442.5,359.9M438.6,366.4L436.0,367.7L432.5,370.6M432.5,370.6L429.3,371.4L426.7,373.2L423.6,376.6L420.6,376.4M420.6,376.4L418.2,375.6L416.1,375.8M418.2,358.3L418.0,363.8L413.5,363.8L413.2,372.2L416.1,375.8M389.9,375.1L393.8,374.3L405.2,375.3L411.7,376.9L416.1,375.8M420.6,376.4L416.5,376.9L410.8,377.7L410.5,387.4L408.2,387.4L408.0,394.7M408.0,394.7L407.6,404.1L404.2,405.1L399.8,404.6M408.0,394.7L409.6,399.9L413.7,397.8L416.0,396.5L420.5,396.8L423.5,394.2L426.2,390.0L429.5,387.9M420.6,376.4L422.5,380.8L424.9,383.4L426.4,386.0L429.5,387.9M429.5,387.9L433.7,388.4M433.7,388.4L436.4,385.5L436.8,382.1L437.8,379.5L437.6,374.8L435.8,372.4L432.5,370.6M433.7,388.4L435.0,393.9L434.6,397.6L434.9,399.9L436.6,400.0M438.5,247.9L440.5,252.6M440.8,252.6L441.4,247.4L441.2,244.3M440.0,243.2L441.5,242.7M441.5,242.7L443.0,240.3L441.6,239.3L441.3,239.0M441.2,244.3L448.1,242.4M454.5,232.8L452.4,234.6L452.9,239.3L448.1,242.4M448.1,242.4L449.5,245.6M440.8,252.9L445.2,252.4L446.9,247.4L449.5,245.6M449.5,245.6L455.8,248.4L462.4,253.4L466.4,253.7M466.4,253.7L468.8,251.1L469.5,251.5M466.4,253.7L470.9,255.2M440.9,235.9L442.1,233.5L445.2,233.5L450.5,233.0L454.5,232.8M454.5,232.8L457.1,232.5L459.7,232.5M459.7,232.5L461.7,235.9L463.2,238.2L462.3,240.9L464.4,242.9L467.3,245.0L468.3,247.7L468.9,248.7L470.7,251.5M459.7,232.5L458.0,229.1L458.6,226.0M458.6,226.0L456.0,224.9L455.1,222.3M455.1,222.3L453.0,221.1L450.8,221.3M446.6,216.4L449.8,216.7L452.9,218.5L455.4,218.2L458.0,218.7L459.5,220.0L461.0,220.3M461.0,220.3L461.6,221.8L459.2,221.8L458.2,221.8M458.2,221.8L456.1,222.1L455.1,222.3M458.2,221.8L459.7,222.9L459.4,223.6L460.7,224.7L460.3,226.2L462.6,228.2M462.6,228.2L461.1,227.3L458.6,226.0M462.6,228.2L465.5,226.5L467.7,229.4M461.0,220.3L463.5,221.8L465.3,220.5M464.0,208.7L458.8,208.4L459.1,205.1L461.9,202.0L466.1,195.5L473.8,198.0L484.6,197.5L482.2,190.7L488.6,187.5L497.8,186.5L506.0,189.5L512.8,189.5L522.5,197.5L528.3,197.0L539.2,201.8M440.7,207.1L444.6,205.9L443.5,200.8L439.1,199.0L433.1,194.0L430.0,193.7L425.8,194.2M479.3,232.2L482.4,230.7L485.9,229.9L490.2,231.7L493.5,234.1L495.4,234.1M495.4,234.1L496.2,236.7L499.0,237.5L500.4,235.9L502.7,234.8L504.5,232.2L506.4,232.0M506.4,232.0L506.2,230.4L502.3,228.6L500.4,227.8L495.9,225.2L494.1,222.3L490.1,221.6L489.1,219.5L485.9,217.9L483.6,221.8L481.5,221.8M481.5,221.8L479.3,221.8L474.6,219.8L474.5,220.8M481.5,221.8L479.0,212.3L483.9,210.7L489.8,213.8L492.6,216.1L497.7,215.9L501.4,217.7L507.1,222.6L508.9,221.6L512.5,219.5M512.5,219.5L513.6,217.9L517.5,218.7L518.3,216.9L521.6,217.9L527.6,217.7L531.9,219.8M531.9,219.8L529.9,220.5L528.0,222.3L525.6,224.2L523.5,223.6L522.0,224.2L520.3,226.5M520.3,226.5L517.3,227.0L514.4,226.8L511.3,226.2L511.6,224.9M511.6,224.9L515.1,224.7L518.0,223.1L515.1,221.8L512.5,219.5M511.6,224.9L512.4,222.9L510.0,223.9L509.4,226.2L507.1,226.5L509.0,228.1L509.2,230.4L509.3,232.5M506.4,232.0L509.3,232.5M509.3,232.5L510.8,232.5L512.8,231.7L514.4,231.2L516.8,230.7L517.0,233.0L517.9,233.8L520.0,233.0L524.5,232.0M524.5,232.0L524.2,229.4L521.2,228.8L520.3,226.5M524.5,232.0L524.1,233.0M524.1,233.0L519.7,233.5L517.8,234.6L517.6,237.2L518.1,240.9L516.1,240.9L516.3,242.7L515.8,246.3L513.4,246.6L510.8,248.2L510.1,251.6L505.9,252.6L501.9,252.9L498.2,251.8M498.2,251.8L499.2,247.7L497.2,247.4L496.1,243.5L496.0,240.1L496.0,236.7L495.4,234.1M498.2,251.8L500.7,255.0L503.1,256.0L503.4,258.4L504.7,259.7L501.8,261.3L501.4,263.9M524.1,233.0L527.2,233.8L530.4,236.9M530.4,236.9L528.5,239.5L525.6,241.4L526.9,244.0L528.8,245.6L527.9,248.4L526.9,251.3L526.0,252.4L524.0,256.0L520.8,256.8L518.7,258.9L520.0,260.2L520.7,263.1L519.5,266.2L517.9,266.2L517.5,268.3M530.4,236.9L532.6,236.9L536.5,239.3L536.0,243.5L537.7,244.8L536.9,247.1L540.7,250.5M540.7,250.5L543.1,251.3L545.3,251.1L548.1,252.6L550.5,254.5L552.8,255.0L555.0,256.8L557.4,256.8L559.6,256.8M540.7,250.5L541.0,252.6L541.3,254.5M541.3,254.5L544.7,255.8L548.5,258.1L552.1,258.4L555.4,260.2L558.4,260.7L560.4,260.5M560.4,260.5L560.3,258.9L559.6,256.8M559.6,256.8L560.7,256.3L561.8,258.4M561.8,258.4L562.2,259.7L565.6,259.7L569.2,259.7M561.8,258.4L562.8,256.0L566.1,256.6L568.2,257.1M569.2,259.7L568.2,257.1M568.2,257.1L570.1,256.8L572.7,253.4L575.5,253.9L576.8,252.9L580.0,256.0M580.0,256.0L578.5,258.4L576.2,260.2L575.6,263.9L575.1,267.5L573.5,267.3L573.3,270.4L572.4,272.2M572.4,272.2L572.1,274.6L572.2,275.6M572.4,272.2L571.1,268.1L569.8,269.9L568.6,267.8L570.0,266.5L570.8,264.7L569.3,263.9L565.7,263.9L564.4,261.8L562.0,261.0L561.0,260.5L560.7,262.3L562.1,263.9L561.0,265.4L562.8,266.5L563.0,269.6L564.3,272.2L564.4,272.8M580.0,256.0L583.1,257.9L584.7,263.1L582.9,267.0L588.0,272.0L591.8,273.3M591.8,273.3L590.7,275.1L590.0,276.4M590.0,276.4L586.7,278.3L585.4,281.9L588.9,287.9L588.5,291.9L590.6,297.1L589.8,303.1L589.6,304.2M591.8,273.3L593.6,274.3L592.7,271.7L594.0,271.2M594.0,271.2L595.8,273.0L596.9,275.4L599.6,275.4L600.2,276.4L599.3,279.3L601.6,280.9L603.5,282.7L606.1,284.8L607.3,287.2L609.0,289.3L609.3,291.3M609.3,291.3L606.8,291.6L605.3,292.9L603.9,292.4M603.9,292.4L604.6,290.6L604.1,288.5L602.2,286.6L601.7,284.0L599.5,281.9L598.0,282.7L595.5,282.2L593.7,284.0L593.1,278.8L591.5,278.8L590.0,276.4M603.9,292.4L600.0,292.1L597.7,294.2L599.3,299.5M603.2,302.6L604.6,301.3L607.1,301.5L606.2,299.2L607.3,298.4L609.7,297.6L609.6,294.5L609.3,291.3M594.0,271.2L596.3,270.2L598.1,270.2L600.6,268.8L603.9,270.2L603.8,271.7L606.1,273.3L607.5,273.6M593.8,312.8L596.0,314.6L598.5,313.6M627.8,225.5L629.3,223.4L630.7,220.5L634.0,221.6L634.6,220.0L635.7,219.0L637.6,219.0L638.0,219.2M638.5,228.8L635.9,229.6L635.5,230.9L634.5,231.2M638.0,219.2L635.1,212.5L638.4,212.3L636.2,203.8L632.5,206.4L619.2,200.3L609.5,192.5L598.8,191.2L602.3,199.0L597.3,199.9M597.3,199.9L597.6,204.3L602.1,205.4L604.0,204.8L607.5,206.6L608.7,207.9L603.8,208.2L602.0,209.4L599.6,211.2L598.3,212.8L594.6,212.0L594.5,213.8L596.3,215.6L594.6,217.9L588.6,219.0L584.8,221.1L574.9,218.5L565.4,218.2L561.3,214.3L556.8,212.5L550.9,211.5L548.9,208.4L549.1,207.1L546.2,204.8L543.6,204.3L540.0,201.5M540.0,201.5L541.9,200.8L544.5,198.7L547.1,197.5L551.3,198.0L555.3,199.8L558.7,199.5L558.6,196.7L560.9,195.2L565.7,196.0L567.4,198.2L572.5,198.7L576.3,198.7L581.6,201.3L586.4,201.8L590.2,200.8L591.9,198.7L594.8,199.8L597.3,199.9M531.9,219.8L529.7,212.3L533.3,211.0L532.8,207.1L537.9,207.1L539.2,201.8M539.2,201.8L540.0,201.5M460.7,286.9L461.5,284.5L463.3,284.3L466.0,284.3L469.0,284.5L471.4,285.3L473.5,282.7L481.2,280.1M481.2,280.1L487.8,277.5L488.7,272.2M488.7,272.2L487.7,270.4L481.5,269.9L479.2,266.5M481.2,280.1L483.2,284.5L484.2,286.4M488.7,272.2L489.4,267.0L489.8,264.7M477.3,265.2L478.2,265.7M391.1,210.7L391.1,208.4M425.8,194.2L423.8,196.2L421.2,196.0L418.1,195.5L413.0,194.7L409.8,195.7M416.9,184.3L419.3,184.8L422.1,185.5L422.6,187.0L424.9,189.5L425.1,191.5L427.0,191.2L425.8,194.2M409.8,195.7L409.6,193.0L408.8,189.7M408.8,189.7L411.3,189.5L412.7,188.7L412.8,187.2L414.2,186.5M414.2,186.5L416.9,184.3M409.8,195.7L411.0,198.2L408.6,201.8M408.6,201.8L407.8,203.6L411.8,204.8L417.0,204.1L419.8,203.8L424.6,208.4L424.4,211.5M417.0,204.1L419.1,205.9L421.2,211.0M407.8,203.6L406.1,208.9L409.7,213.6L413.1,215.6L420.3,214.8L422.7,215.6M410.1,219.2L413.7,221.3L418.0,221.8L418.7,220.8L422.0,220.0M418.7,220.8L418.1,223.1M390.6,189.7L391.7,193.0L392.5,197.2M392.5,197.2L396.0,198.7L400.8,200.8L408.6,201.8M401.0,188.2L407.2,188.5L408.8,189.7M403.1,184.3L414.0,185.3L414.2,186.5M408.9,179.7L414.7,180.6M414.9,176.0L414.7,179.7L416.9,184.3M415.6,173.2L417.6,171.3L415.3,165.4L415.1,160.8L412.3,156.3L410.9,154.1L411.3,152.3M405.1,161.2L403.2,157.4L398.2,153.8L405.2,154.9L407.1,152.1L411.3,152.3M384.2,177.2L385.8,172.4L384.5,167.7L387.6,163.1L390.3,157.4L396.6,154.1L398.2,153.8M411.3,152.3L414.6,152.3M379.6,187.2L381.9,187.5L382.4,188.2M377.1,191.2L375.1,195.0L375.0,197.5M375.0,197.5L375.2,199.3L375.9,200.8M375.9,200.8L379.6,202.3L378.5,205.6M378.5,205.6L382.4,205.6L384.4,205.9M384.4,205.9L389.5,205.9L390.9,202.8M390.9,202.8L387.2,198.7L392.5,197.2M369.6,196.0L372.9,196.0L375.0,197.5M368.0,196.7L371.4,198.7L374.1,200.8L375.9,200.8M378.5,205.6L376.3,208.4L377.4,210.0M377.4,210.0L377.6,214.3L378.2,215.6M377.4,210.0L380.5,208.7L384.5,208.4L384.4,205.9M384.5,207.7L388.6,207.1L392.8,208.4L396.4,207.7M390.9,202.8L393.3,202.0L397.4,202.8L397.8,204.6L396.6,205.9L396.4,207.7M397.4,202.8L400.8,200.8M397.8,204.6L401.7,205.1L404.5,203.3L407.8,203.6M396.4,207.7L399.0,210.0L402.1,210.0L406.1,208.9M391.1,211.0L395.0,211.0L396.5,208.7M395.5,211.8L397.1,211.8L402.3,212.3M395.5,211.8L397.0,214.8L399.7,217.4L401.9,218.7M402.3,212.3L403.6,214.8L402.8,216.9L401.9,218.7M409.7,213.6L409.8,216.1L410.1,219.2M403.9,220.3L404.4,218.5L405.2,218.6M405.2,218.6L406.4,220.0L406.4,222.3L407.3,222.9M407.3,222.9L407.6,223.6L407.1,224.9L405.9,226.2L405.7,226.0M407.3,222.9L409.6,222.3L411.4,221.8L410.1,219.2M402.8,216.9L405.2,218.6M344.2,220.3L349.3,220.8L348.3,224.7L347.3,229.1L347.0,232.5M359.2,216.4L364.0,218.2L369.7,219.0M350.9,189.2L348.8,189.0L347.3,188.0L348.9,186.7M539.2,201.8L540.0,201.5M114.0,202.0L170.8,202.0L172.0,201.3L180.9,204.6L189.6,208.4L192.5,211.5L189.6,218.7L197.3,217.9L203.2,215.9L208.3,212.3L214.9,212.3L216.8,211.0L219.4,208.4L221.8,206.1L223.8,206.4L223.3,210.2L224.2,212.5M127.9,152.6L103.5,174.1L106.0,175.3L107.1,177.0L112.5,175.3L113.2,178.4L112.8,184.0L112.8,186.3M105.4,244.8L110.9,244.3L117.8,247.9L124.0,247.9L128.2,246.6L131.0,252.1L133.8,253.9L137.9,251.8L140.7,257.9L144.9,262.0M151.9,291.9L152.2,289.8L153.5,287.7L156.5,287.7L156.8,283.2L159.9,282.8L162.1,281.4L162.9,281.9M159.9,282.8L159.3,288.2L159.9,288.2M159.3,288.2L161.4,288.7M159.3,288.2L159.0,290.3L158.6,292.1M158.6,292.1L156.5,294.0M158.6,292.1L160.3,293.4L161.7,294.7M162.8,296.1L164.0,294.7L166.7,293.4L169.6,291.3L172.7,290.6M166.1,300.8L170.6,301.3M172.9,304.7L172.0,308.6M184.8,307.0L183.5,311.0M199.3,298.9L196.4,300.8L195.4,306.0L196.2,310.4L201.4,311.7L207.3,313.6L206.5,318.0L207.5,324.0M207.5,324.0L201.3,325.9L202.4,332.4L201.6,340.8M201.6,340.8L195.5,336.3L189.2,330.1M189.2,330.1L183.9,328.5L180.9,326.1M189.2,330.1L188.6,333.7L185.1,336.3L181.8,341.6L177.6,338.7M224.8,307.6L222.3,314.1L222.9,316.2M222.9,316.2L215.2,319.1L213.3,324.6L207.5,324.0M222.9,316.2L224.9,319.3L224.8,325.1L229.0,325.9L231.3,323.0M231.3,323.0L231.1,314.4M238.2,324.3L238.4,314.9M231.3,323.0L238.2,324.3M238.2,324.3L243.9,318.8M201.6,340.8L199.6,353.3L196.2,354.7L201.0,358.6L203.0,358.3M203.0,358.3L205.1,362.5L204.0,369.0L205.5,373.0L204.6,375.6M204.6,375.6L203.0,378.2M203.0,358.3L212.3,355.4L213.8,361.2L220.9,365.1L224.4,365.9L226.0,372.4L229.9,372.4L231.4,376.9L231.1,381.6M221.5,387.9L217.3,388.7L213.2,386.8L209.9,389.4M204.6,375.6L207.2,379.5L208.5,385.3L209.9,389.4M209.9,389.4L209.0,395.2L207.9,404.4L207.6,413.5L210.1,421.4L210.7,430.5L211.7,439.6L214.5,446.0L215.2,453.7L216.0,460.1L219.2,463.9L225.7,465.4L228.1,465.9M228.0,466.6L230.5,472.4M231.1,381.6L228.7,380.3L226.6,380.3L222.9,381.1L221.7,383.4L221.5,387.9M221.5,387.9L225.5,392.1L228.4,393.6L231.6,396.0L233.7,397.0L232.0,401.2L237.0,402.0L239.0,400.4L240.4,396.8M240.4,396.8L240.7,392.6L238.2,392.3L237.1,388.4L232.1,387.6L231.7,384.0L231.1,381.6M240.4,396.8L242.6,400.4L238.7,404.4L235.3,408.8M235.3,408.8L235.2,416.1L235.3,418.7M235.3,408.8L239.1,410.6L245.3,414.8L246.1,418.0M200.2,278.0L200.0,279.6L199.4,281.1L199.7,282.7M616.2,324.6L618.3,325.9L621.3,326.7L622.9,325.9L625.5,326.4L627.8,325.4L629.1,322.5L629.9,319.3L632.6,318.6L634.5,318.8M688.7,336.6L688.1,347.6L687.6,353.6M650.7,353.3L650.9,354.7" fill="none" stroke="#c2c2c2" stroke-width="0.6"/>
<path d="M460.6,213.6L464.0,208.7L468.3,207.1L471.8,208.4L472.8,212.3L470.0,213.6L467.6,214.1L470.6,216.1L473.8,218.7L474.5,220.8L477.4,222.6L475.9,225.2L476.9,227.0L479.3,232.2L474.3,233.5L469.7,231.7L467.7,229.4L468.1,224.7L465.3,220.5L462.5,217.4ZM420.8,218.7L422.7,215.6L422.6,213.6L424.4,211.5L425.6,208.4L428.7,208.4L432.0,210.0L430.1,211.2L432.4,213.6L434.7,213.6L438.5,211.8L435.0,209.7L438.7,207.1L442.7,206.6L442.2,209.2L440.4,211.0L441.9,213.6L446.6,216.4L450.9,221.1L447.7,222.6L441.4,222.3L436.8,220.0L432.6,220.3L428.6,222.1L424.4,222.1L422.2,221.3Z" fill="#fff" stroke="#c2c2c2" stroke-width="0.6"/>
<path d="M388.2,242.9L386.9,241.4L385.1,241.1L386.6,239.0L387.2,237.7L385.8,235.1L387.0,232.8L385.3,233.3L384.4,232.2L381.6,233.3L381.6,233.3L381.2,236.2L380.9,239.3L379.5,242.9L383.0,245.8L384.1,250.8L384.1,250.8L385.6,249.0L385.7,246.9L388.3,245.0L388.2,242.9ZM352.1,264.4L365.7,274.9L372.7,279.7L372.7,279.7L372.7,285.6L371.2,289.3L366.0,289.8L363.5,290.8L363.5,290.8L361.9,290.3L358.4,291.3L354.7,294.5L352.9,296.6L351.1,300.0L350.4,302.5L350.4,302.5L348.7,303.1L346.9,303.1L344.1,302.9L344.1,302.9L343.9,300.2L341.9,297.6L338.7,298.7L336.8,297.4L336.8,297.4L336.6,294.5L335.1,291.2L335.1,291.2L336.9,289.0L339.0,289.5L348.1,289.3L350.4,286.6L349.4,274.1L352.1,264.4ZM345.2,318.3L351.5,316.5L353.8,315.9L355.8,316.5L355.8,316.5L355.6,313.3L357.2,308.1L356.7,304.8L356.7,304.8L354.5,303.8L352.0,303.9L350.4,302.5L350.4,302.5L348.7,303.1L346.9,303.1L344.1,302.9L344.1,302.9L345.3,305.7L344.6,307.6L343.5,310.0L343.5,310.0L343.9,311.7L345.7,314.4L345.2,318.3ZM365.8,313.8L366.7,313.6L366.7,313.6L366.8,309.9L366.7,306.0L364.8,302.9L365.1,301.0L365.1,301.0L363.0,300.8L363.0,300.8L362.8,301.8L363.9,303.1L364.3,307.0L364.4,311.5L365.8,313.8ZM382.6,317.8L384.9,319.3L385.6,322.5L385.6,323.8L385.6,323.8L389.1,323.9L389.1,323.9L393.7,324.0L393.7,324.0L397.7,324.6L400.4,324.0L400.4,324.0L397.9,320.9L396.5,318.3L396.7,315.9L396.9,313.6L398.7,310.2L398.7,310.2L398.7,305.7L395.9,303.9L398.7,303.6L397.5,301.0L397.2,298.1L395.6,295.6L395.6,295.6L396.5,297.9L395.2,299.7L393.6,303.1L393.2,306.3L391.1,308.1L390.2,311.2L388.6,312.8L386.5,311.7L384.9,313.3L383.3,315.4L382.6,317.8ZM398.7,310.2L396.9,313.6L396.7,315.9L396.5,318.3L397.9,320.9L400.4,324.0L400.4,324.0L401.3,320.6L403.4,320.1L406.0,320.6L406.0,320.6L406.9,318.6L410.3,318.3L414.7,319.1L416.1,317.8L420.7,316.5L423.0,316.7L426.2,316.5L426.2,316.5L424.1,314.1L421.3,311.5L418.7,308.1L417.1,307.0L417.1,307.0L415.6,301.3L415.6,301.3L413.1,302.1L411.3,304.9L407.0,306.3L405.6,306.8L401.0,309.9L398.7,310.2ZM476.2,361.2L478.5,370.3L475.5,376.4L473.0,383.4L468.9,394.7L464.5,396.5L461.5,391.3L461.0,386.8L463.8,381.6L463.8,374.3L469.3,371.1L472.5,366.4ZM454.5,232.8L457.1,232.5L459.7,232.5L459.7,232.5L461.7,235.9L463.2,238.2L462.3,240.9L464.4,242.9L467.3,245.0L468.3,247.7L468.9,248.7L470.7,251.5L469.5,251.5L469.5,251.5L468.8,251.1L466.4,253.7L466.4,253.7L462.4,253.4L455.8,248.4L449.5,245.6L449.5,245.6L448.1,242.4L448.1,242.4L452.9,239.3L452.4,234.6L454.5,232.8ZM446.6,216.4L449.8,216.7L452.9,218.5L455.4,218.2L458.0,218.7L459.5,220.0L461.0,220.3L461.0,220.3L461.6,221.8L459.2,221.8L458.2,221.8L458.2,221.8L456.1,222.1L455.1,222.3L455.1,222.3L453.0,221.1L450.8,221.3L450.8,219.8L448.9,217.4ZM455.1,222.3L456.1,222.1L458.2,221.8L458.2,221.8L459.7,222.9L459.4,223.6L460.7,224.7L460.3,226.2L462.6,228.2L462.6,228.2L461.1,227.3L458.6,226.0L458.6,226.0L456.0,224.9L455.1,222.3ZM474.5,220.8L477.4,222.6L475.9,225.2L476.9,227.0L479.3,232.2L482.4,230.7L485.9,229.9L490.2,231.7L493.5,234.1L495.4,234.1L495.4,234.1L496.2,236.7L499.0,237.5L500.4,235.9L502.7,234.8L504.5,232.2L506.4,232.0L506.4,232.0L506.2,230.4L502.3,228.6L500.4,227.8L495.9,225.2L494.1,222.3L490.1,221.6L489.1,219.5L485.9,217.9L483.6,221.8L481.5,221.8L481.5,221.8L479.3,221.8L474.6,219.8L474.5,220.8ZM512.5,219.5L513.6,217.9L517.5,218.7L518.3,216.9L521.6,217.9L527.6,217.7L531.9,219.8L531.9,219.8L529.9,220.5L528.0,222.3L525.6,224.2L523.5,223.6L522.0,224.2L520.3,226.5L520.3,226.5L517.3,227.0L514.4,226.8L511.3,226.2L511.6,224.9L511.6,224.9L515.1,224.7L518.0,223.1L515.1,221.8L512.5,219.5ZM498.2,251.8L501.9,252.9L505.9,252.6L510.1,251.6L510.8,248.2L513.4,246.6L515.8,246.3L516.3,242.7L516.1,240.9L518.1,240.9L517.6,237.2L517.8,234.6L519.7,233.5L524.1,233.0L524.1,233.0L527.2,233.8L530.4,236.9L530.4,236.9L528.5,239.5L525.6,241.4L526.9,244.0L528.8,245.6L527.9,248.4L526.9,251.3L526.0,252.4L524.0,256.0L520.8,256.8L518.7,258.9L520.0,260.2L520.7,263.1L519.5,266.2L517.9,266.2L517.5,268.3L517.5,268.3L515.1,267.0L513.5,264.9L508.0,263.9L503.0,264.1L501.4,263.9L501.4,263.9L501.8,261.3L504.7,259.7L503.4,258.4L503.1,256.0L500.7,255.0L498.2,251.8ZM416.9,184.3L419.3,184.8L422.1,185.5L422.6,187.0L424.9,189.5L425.1,191.5L427.0,191.2L425.8,194.2L425.8,194.2L423.8,196.2L421.2,196.0L418.1,195.5L413.0,194.7L409.8,195.7L409.8,195.7L409.6,193.0L408.8,189.7L408.8,189.7L411.3,189.5L412.7,188.7L412.8,187.2L414.2,186.5L414.2,186.5L416.9,184.3ZM405.7,226.0L404.2,223.9L404.1,220.5L405.2,218.6L403.9,220.3L403.9,220.3L404.4,218.5L405.2,218.6L405.2,218.6L406.4,220.0L406.4,222.3L407.3,222.9L407.3,222.9L407.6,223.6L407.1,224.9L405.9,226.2L405.7,226.0ZM231.1,381.6L228.7,380.3L226.6,380.3L222.9,381.1L221.7,383.4L221.5,387.9L221.5,387.9L225.5,392.1L228.4,393.6L231.6,396.0L233.7,397.0L232.0,401.2L237.0,402.0L239.0,400.4L240.4,396.8L240.4,396.8L240.7,392.6L238.2,392.3L237.1,388.4L232.1,387.6L231.7,384.0L231.1,381.6ZM170.8,272.6L173.2,270.7L177.1,269.2L179.8,269.1L183.4,270.4L187.0,272.5L191.5,274.6L194.8,277.0L192.3,277.7L186.6,277.9L188.1,276.6L186.2,275.5L183.5,273.6L181.1,272.1L178.8,271.7L176.6,270.7L174.2,271.7L172.3,272.5ZM193.6,281.5L195.8,281.3L197.6,280.9L197.6,279.3L196.3,278.1L197.8,277.6L200.2,278.0L200.2,278.0L200.0,279.6L199.4,281.1L199.7,282.7L199.7,282.7L197.9,282.2L195.7,282.2L194.1,281.9L193.6,281.5ZM162.1,281.4L162.9,281.9L162.4,284.3L161.5,286.9L159.9,288.2L159.3,288.2L159.9,282.8ZM166.1,300.8L170.6,301.3L170.6,301.3L171.1,301.0L172.1,303.6L172.9,304.7L172.9,304.7L172.0,308.6L172.0,308.6L170.7,307.8L165.6,303.6L166.1,300.8ZM688.7,336.6L696.6,339.7L699.9,343.7L703.9,345.5L702.9,349.4L707.9,356.7L701.7,354.7L699.3,350.7L694.8,349.9L692.9,353.3L687.6,353.6L687.6,353.6L688.1,347.6L688.7,336.6ZM705.1,344.2L710.2,343.7L713.9,340.8L714.4,344.2L708.9,346.0ZM710.6,336.9L715.1,340.8L716.1,342.4L712.9,337.6ZM719.7,344.2L722.5,346.8L721.0,347.6ZM767.1,375.6L769.8,375.8L768.7,377.7L767.0,377.1ZM771.3,372.4L773.9,373.0L771.8,374.3ZM0.1,324.4L1.2,324.8L0.3,325.6ZM378.0,328.8L378.6,329.0L378.0,329.7ZM462.2,359.6L462.9,360.9L462.2,360.9ZM490.9,341.8L491.3,342.1L491.1,341.6ZM493.3,382.1L494.2,382.4L493.4,383.4ZM775.5,351.8L775.9,352.3L775.4,352.6ZM762.5,325.9L763.0,326.4L762.5,326.7ZM-33.1,364.9L-29.9,366.2L-32.2,365.9ZM222.5,289.0L223.0,289.3L222.6,290.0ZM223.3,292.9L223.5,293.4L223.1,294.0ZM226.3,295.0L226.7,295.4L226.3,295.7ZM221.2,297.8L221.6,297.9L221.2,298.4Z" fill="#fdf4f9" stroke="#9a9a9a" stroke-width="0.5" stroke-linejoin="round"/>
<path d="M325.3,287.2L322.9,291.3L324.5,293.7L324.6,294.2L324.7,294.5L324.6,295.4L324.4,297.4L324.4,297.4L328.1,296.6L331.6,296.7L331.6,296.7L334.3,297.4L336.8,297.4L336.8,297.4L336.6,294.5L335.1,291.2L335.1,291.2L332.6,288.5L329.9,286.4L326.5,286.6L325.3,287.2ZM336.7,311.7L338.1,313.3L342.2,316.7L345.2,318.3L345.2,318.3L345.7,314.4L343.9,311.7L343.5,310.0L343.5,310.0L341.6,310.2L340.9,307.8L338.8,307.8L338.8,307.8L338.6,308.9L337.6,310.4L336.7,311.7ZM366.7,313.6L368.5,313.2L369.2,313.1L369.2,313.1L369.2,308.9L369.9,306.0L371.3,302.9L371.3,299.2L371.3,299.2L370.1,298.4L368.5,298.7L368.5,298.7L366.7,300.0L365.1,301.0L365.1,301.0L364.8,302.9L366.7,306.0L366.8,309.9L366.7,313.6ZM394.2,293.9L395.6,295.6L395.6,295.6L397.2,298.1L397.5,301.0L398.7,303.6L395.9,303.9L398.7,305.7L398.7,310.2L398.7,310.2L401.0,309.9L405.6,306.8L407.0,306.3L411.3,304.9L413.1,302.1L415.6,301.3L415.6,301.3L414.4,297.6L413.5,296.1L414.8,293.2L415.3,289.0L417.9,288.7L417.5,278.8L417.5,278.8L396.9,269.6L396.9,269.6L397.4,272.2L399.2,275.1L398.4,277.7L398.0,287.9L396.2,291.9L394.2,293.9ZM441.5,304.9L443.7,301.5L444.7,296.8L446.6,292.4L446.6,292.4L449.7,290.8L452.3,291.6L454.8,291.9L458.6,295.3L460.3,297.1L460.3,297.1L459.0,299.5L459.5,301.0L461.7,301.1L461.7,301.1L463.3,305.2L465.7,306.5L473.3,308.9L466.8,316.7L462.2,317.0L459.7,319.4L459.7,319.4L457.2,318.8L454.2,320.6L450.7,320.4L447.9,318.3L445.9,317.8L445.9,317.8L444.4,315.4L443.0,312.5L440.7,309.9L439.0,309.4L441.1,307.8L441.5,304.9ZM391.1,344.2L391.6,345.5L391.6,345.5L393.4,345.2L400.8,345.2L403.1,350.7L407.7,348.4L410.5,348.0L413.2,348.9L413.6,354.4L413.3,357.8L415.6,358.6L418.2,358.3L418.2,358.3L419.3,359.6L421.1,359.1L422.7,360.9L425.5,360.1L427.5,362.2L429.5,364.9L431.3,364.9L431.4,361.7L429.6,362.2L428.2,359.9L428.8,355.4L428.4,353.9L431.2,351.5L433.9,351.5L433.9,351.5L432.2,348.1L430.8,345.2L430.6,341.6L430.6,341.6L430.2,338.4L430.0,337.1L430.0,337.1L430.5,335.0L431.4,333.5L431.4,333.5L431.4,330.3L432.1,327.4L433.5,325.9L435.3,324.0L434.6,322.2L434.1,320.6L434.1,320.6L431.3,317.8L428.6,318.6L426.2,316.5L426.2,316.5L423.0,316.7L420.7,316.5L416.1,317.8L414.7,319.1L410.3,318.3L406.9,318.6L406.0,320.6L406.0,320.6L404.8,325.9L404.1,329.8L403.0,333.7L400.4,335.8L399.7,339.0L398.3,341.0L396.2,342.6L393.2,342.4L392.5,342.2L392.5,342.2L393.0,342.9L391.1,344.2ZM455.9,357.3L454.2,352.0L453.6,347.6L453.0,342.9L453.5,342.0L453.5,342.0L450.1,337.9L441.3,332.4L441.3,332.4L433.5,332.6L433.5,332.6L434.2,335.0L433.5,336.1L433.5,336.1L434.1,338.4L432.5,340.8L430.6,341.6L430.6,341.6L430.8,345.2L432.2,348.1L433.9,351.5L433.9,351.5L436.7,353.3L438.7,354.4L438.7,354.4L441.0,355.2L442.3,357.3L442.5,359.9L442.5,359.9L445.2,359.9L449.1,360.1L451.4,359.6L455.9,357.3ZM511.6,224.9L511.3,226.2L514.4,226.8L517.3,227.0L520.3,226.5L520.3,226.5L521.2,228.8L524.2,229.4L524.5,232.0L524.5,232.0L520.0,233.0L517.9,233.8L517.0,233.0L516.8,230.7L514.4,231.2L512.8,231.7L510.8,232.5L509.3,232.5L509.3,232.5L509.2,230.4L509.0,228.1L507.1,226.5L509.4,226.2L510.0,223.9L512.4,222.9L511.6,224.9ZM591.8,273.3L593.6,274.3L592.7,271.7L594.0,271.2L594.0,271.2L595.8,273.0L596.9,275.4L599.6,275.4L600.2,276.4L599.3,279.3L601.6,280.9L603.5,282.7L606.1,284.8L607.3,287.2L609.0,289.3L609.3,291.3L609.3,291.3L606.8,291.6L605.3,292.9L603.9,292.4L603.9,292.4L604.6,290.6L604.1,288.5L602.2,286.6L601.7,284.0L599.5,281.9L598.0,282.7L595.5,282.2L593.7,284.0L593.1,278.8L591.5,278.8L590.0,276.4L590.0,276.4L590.7,275.1L591.8,273.3ZM597.3,199.9L597.6,204.3L602.1,205.4L604.0,204.8L607.5,206.6L608.7,207.9L603.8,208.2L602.0,209.4L599.6,211.2L598.3,212.8L594.6,212.0L594.5,213.8L596.3,215.6L594.6,217.9L588.6,219.0L584.8,221.1L574.9,218.5L565.4,218.2L561.3,214.3L556.8,212.5L550.9,211.5L548.9,208.4L549.1,207.1L546.2,204.8L543.6,204.3L540.0,201.5L540.0,201.5L541.9,200.8L544.5,198.7L547.1,197.5L551.3,198.0L555.3,199.8L558.7,199.5L558.6,196.7L560.9,195.2L565.7,196.0L567.4,198.2L572.5,198.7L576.3,198.7L581.6,201.3L586.4,201.8L590.2,200.8L591.9,198.7L594.8,199.8L597.3,199.9ZM161.4,288.7L166.5,288.2L172.7,290.6L172.7,290.6L169.6,291.3L166.7,293.4L164.0,294.7L162.8,296.1L162.2,295.3L161.7,294.7L160.3,293.4L158.6,292.1L158.6,292.1L159.0,290.3L159.3,288.2L159.3,288.2L161.4,288.7ZM582.8,315.2L588.0,316.2L594.7,323.3L602.8,332.4L607.8,337.6L607.0,345.0L604.0,345.2L598.5,339.0L594.8,332.4L590.6,325.4ZM605.5,347.6L609.3,345.5L613.2,346.8L619.0,346.5L622.8,347.9L626.8,349.9L626.6,352.6L618.7,351.3L611.8,350.2L606.2,347.9ZM638.7,344.2L641.0,344.2L641.3,337.6L643.4,342.4L646.9,341.6L643.7,335.0L648.1,332.4L642.6,332.4L646.1,328.5L650.7,328.5L651.8,325.9L649.5,327.2L640.3,327.2L640.8,329.8L639.1,332.4L637.4,336.3L639.0,339.0ZM638.9,352.0L646.3,351.3L645.7,352.8L639.3,353.1ZM632.0,352.0L637.1,351.3L636.5,353.1L632.1,353.3ZM626.7,351.0L629.5,351.8L628.2,352.8ZM629.9,351.5L631.8,351.3L631.0,353.1ZM636.8,354.7L641.1,355.7L638.9,356.7ZM657.6,325.9L660.6,325.9L658.8,328.5L660.9,331.6L658.6,329.5ZM658.4,337.6L665.1,338.4L663.2,339.7L659.0,339.0ZM653.8,338.2L656.8,338.4L655.1,340.0ZM616.2,324.6L618.3,325.9L621.3,326.7L622.9,325.9L625.5,326.4L627.8,325.4L629.1,322.5L629.9,319.3L632.6,318.6L634.5,318.8L634.5,318.8L635.2,324.6L638.0,327.4L634.5,331.1L632.1,336.3L630.8,339.7L627.4,340.3L624.0,337.9L619.4,337.6L617.5,337.4L617.2,332.9L614.9,329.8L614.8,325.1L616.2,324.6ZM687.6,353.6L682.7,351.3L680.9,343.7L674.6,341.3L669.6,340.3L667.9,337.1L671.4,335.8L665.7,333.7L669.2,331.1L673.1,332.2L674.8,338.4L680.7,333.7L688.7,336.6L688.7,336.6L688.1,347.6L687.6,353.6ZM650.9,354.7L648.1,356.7L647.0,356.5L650.7,353.3ZM637.2,281.4L641.1,281.4L641.3,285.3L641.0,289.3L642.9,293.2L647.4,295.8L645.8,295.8L641.3,293.4L639.2,292.7L637.1,287.9ZM644.2,311.5L647.4,307.6L651.7,304.2L654.8,310.7L652.5,314.9L649.0,313.3ZM638.7,294.5L641.6,295.3L641.2,297.9L639.5,296.8ZM632.9,307.8L637.5,300.2L638.4,302.3L633.9,308.3ZM648.2,297.1L651.6,298.4L650.9,303.1L648.5,299.7ZM643.1,298.9L646.0,300.2L644.6,302.1L643.3,302.3ZM645.2,301.0L647.3,303.1L646.1,306.0L644.6,303.9Z" fill="#e8e4f0" stroke="#9a9a9a" stroke-width="0.5" stroke-linejoin="round"/>
<path d="M324.4,297.4L324.7,297.9L326.2,301.0L328.5,301.2L328.5,301.2L329.7,299.7L331.1,299.2L331.5,298.4L331.6,296.7L331.6,296.7L328.1,296.6L324.4,297.4ZM328.5,301.2L329.7,302.3L331.5,304.9L332.4,306.1L332.4,306.1L334.2,303.9L337.2,303.6L338.4,305.5L338.6,307.6L338.8,307.8L338.8,307.8L340.9,307.8L341.6,310.2L343.5,310.0L343.5,310.0L344.6,307.6L345.3,305.7L344.1,302.9L344.1,302.9L343.9,300.2L341.9,297.6L338.7,298.7L336.8,297.4L336.8,297.4L334.3,297.4L331.6,296.7L331.6,296.7L331.5,298.4L331.1,299.2L329.7,299.7L328.5,301.2ZM355.8,316.5L358.2,317.5L362.5,315.4L365.8,313.8L365.8,313.8L364.4,311.5L364.3,307.0L363.9,303.1L362.8,301.8L363.0,300.8L363.0,300.8L360.7,301.0L356.5,301.0L356.8,302.3L356.7,304.8L356.7,304.8L357.2,308.1L355.6,313.3L355.8,316.5ZM369.2,313.1L370.8,313.1L373.4,313.6L375.7,316.7L376.9,318.6L380.3,318.0L382.6,317.8L382.6,317.8L383.3,315.4L384.9,313.3L386.5,311.7L388.6,312.8L390.2,311.2L391.1,308.1L393.2,306.3L393.6,303.1L395.2,299.7L396.5,297.9L395.6,295.6L395.6,295.6L394.2,293.9L394.2,293.9L391.7,295.3L385.9,295.1L382.5,295.8L378.6,295.5L375.1,293.8L372.4,294.5L371.3,299.2L371.3,299.2L371.3,302.9L369.9,306.0L369.2,308.9L369.2,313.1ZM441.3,318.8L437.4,320.4L434.6,320.1L434.1,320.6L434.1,320.6L434.6,322.2L435.3,324.0L433.5,325.9L432.1,327.4L431.4,330.3L431.4,333.5L431.4,333.5L433.5,332.6L433.5,332.6L441.3,332.4L441.3,332.4L441.6,329.3L442.7,326.9L443.6,323.3L441.3,318.8ZM433.5,332.6L431.4,333.5L431.4,333.5L430.5,335.0L430.0,337.1L430.0,337.1L432.1,335.9L433.5,336.1L433.5,336.1L434.2,335.0L433.5,332.6ZM438.7,354.4L439.6,357.3L439.2,360.7L438.7,363.3L437.9,365.4L438.6,366.4L438.6,366.4L441.8,367.5L442.1,369.8L441.4,371.7L442.9,374.0L443.5,374.5L444.3,371.7L444.9,369.0L444.3,366.9L443.0,365.1L442.5,359.9L442.5,359.9L442.3,357.3L441.0,355.2L438.7,354.4ZM432.5,370.6L429.3,371.4L426.7,373.2L423.6,376.6L420.6,376.4L420.6,376.4L422.5,380.8L424.9,383.4L426.4,386.0L429.5,387.9L429.5,387.9L433.7,388.4L433.7,388.4L436.4,385.5L436.8,382.1L437.8,379.5L437.6,374.8L435.8,372.4L432.5,370.6ZM399.8,404.6L401.3,409.6L402.7,413.5L403.3,418.5L403.4,419.7L406.6,420.8L411.1,419.0L419.0,418.7L424.3,416.1L428.1,412.2L431.8,408.0L435.2,404.6L436.6,400.0L436.6,400.0L434.9,399.9L434.6,397.6L435.0,393.9L433.7,388.4L433.7,388.4L429.5,387.9L429.5,387.9L426.2,390.0L423.5,394.2L420.5,396.8L416.0,396.5L413.7,397.8L409.6,399.9L408.0,394.7L408.0,394.7L407.6,404.1L404.2,405.1L399.8,404.6ZM495.4,234.1L496.2,236.7L499.0,237.5L500.4,235.9L502.7,234.8L504.5,232.2L506.4,232.0L506.4,232.0L509.3,232.5L509.3,232.5L510.8,232.5L512.8,231.7L514.4,231.2L516.8,230.7L517.0,233.0L517.9,233.8L520.0,233.0L524.5,232.0L524.5,232.0L524.1,233.0L524.1,233.0L519.7,233.5L517.8,234.6L517.6,237.2L518.1,240.9L516.1,240.9L516.3,242.7L515.8,246.3L513.4,246.6L510.8,248.2L510.1,251.6L505.9,252.6L501.9,252.9L498.2,251.8L498.2,251.8L499.2,247.7L497.2,247.4L496.1,243.5L496.0,240.1L496.0,236.7L495.4,234.1ZM517.5,268.3L517.9,266.2L519.5,266.2L520.7,263.1L520.0,260.2L518.7,258.9L520.8,256.8L524.0,256.0L526.0,252.4L526.9,251.3L527.9,248.4L528.8,245.6L526.9,244.0L525.6,241.4L528.5,239.5L530.4,236.9L530.4,236.9L532.6,236.9L536.5,239.3L536.0,243.5L537.7,244.8L536.9,247.1L540.7,250.5L540.7,250.5L541.0,252.6L541.3,254.5L541.3,254.5L544.7,255.8L548.5,258.1L552.1,258.4L555.4,260.2L558.4,260.7L560.4,260.5L560.4,260.5L560.3,258.9L559.6,256.8L559.6,256.8L560.7,256.3L561.8,258.4L561.8,258.4L562.2,259.7L565.6,259.7L569.2,259.7L569.2,259.7L568.2,257.1L568.2,257.1L570.1,256.8L572.7,253.4L575.5,253.9L576.8,252.9L580.0,256.0L580.0,256.0L578.5,258.4L576.2,260.2L575.6,263.9L575.1,267.5L573.5,267.3L573.3,270.4L572.4,272.2L572.4,272.2L571.1,268.1L569.8,269.9L568.6,267.8L570.0,266.5L570.8,264.7L569.3,263.9L565.7,263.9L564.4,261.8L562.0,261.0L561.0,260.5L560.7,262.3L562.1,263.9L561.0,265.4L562.8,266.5L563.0,269.6L564.3,272.2L564.4,272.8L564.4,272.8L562.2,273.3L560.1,274.9L558.9,277.7L556.2,279.3L552.8,283.5L550.9,286.4L548.5,288.2L546.5,290.6L547.1,295.5L546.5,299.7L546.7,302.9L544.8,305.5L541.5,308.6L538.3,303.6L536.1,298.9L534.6,296.1L531.7,289.3L528.5,280.1L527.5,274.9L526.9,271.7L526.1,274.3L522.8,275.4L519.0,271.5L521.0,269.9L517.5,268.3ZM540.7,250.5L543.1,251.3L545.3,251.1L548.1,252.6L550.5,254.5L552.8,255.0L555.0,256.8L557.4,256.8L559.6,256.8L559.6,256.8L560.3,258.9L560.4,260.5L560.4,260.5L558.4,260.7L555.4,260.2L552.1,258.4L548.5,258.1L544.7,255.8L541.3,254.5L541.3,254.5L541.0,252.6L540.7,250.5ZM594.0,271.2L596.3,270.2L598.1,270.2L600.6,268.8L603.9,270.2L603.8,271.7L606.1,273.3L607.5,273.6L607.5,273.6L604.8,275.4L603.8,278.8L603.7,280.9L606.0,284.0L608.6,286.6L610.2,287.7L612.5,291.9L613.6,297.9L613.0,300.5L609.0,302.3L608.1,304.9L604.3,307.3L604.5,303.6L603.2,302.6L603.2,302.6L604.6,301.3L607.1,301.5L606.2,299.2L607.3,298.4L609.7,297.6L609.6,294.5L609.3,291.3L609.3,291.3L609.0,289.3L607.3,287.2L606.1,284.8L603.5,282.7L601.6,280.9L599.3,279.3L600.2,276.4L599.6,275.4L596.9,275.4L595.8,273.0L594.0,271.2Z" fill="#cfd1e6" stroke="#9a9a9a" stroke-width="0.5" stroke-linejoin="round"/>
<path d="M433.9,351.5L431.2,351.5L428.4,353.9L428.8,355.4L428.2,359.9L429.6,362.2L431.4,361.7L431.3,364.9L429.5,364.9L427.5,362.2L425.5,360.1L422.7,360.9L421.1,359.1L419.3,359.6L418.2,358.3L418.2,358.3L418.0,363.8L413.5,363.8L413.2,372.2L416.1,375.8L416.1,375.8L418.2,375.6L420.6,376.4L420.6,376.4L423.6,376.6L426.7,373.2L429.3,371.4L432.5,370.6L432.5,370.6L436.0,367.7L438.6,366.4L438.6,366.4L437.9,365.4L438.7,363.3L439.2,360.7L439.6,357.3L438.7,354.4L438.7,354.4L436.7,353.3L433.9,351.5ZM572.2,275.6L571.3,273.8L572.4,272.2L570.5,271.5L567.6,272.0L564.4,272.8L564.4,272.8L564.3,272.2L563.0,269.6L562.8,266.5L561.0,265.4L562.1,263.9L560.7,262.3L561.0,260.5L562.0,261.0L564.4,261.8L565.7,263.9L569.3,263.9L570.8,264.7L570.0,266.5L568.6,267.8L569.8,269.9L571.1,268.1L572.4,272.2L572.4,272.2L572.1,274.6L572.2,275.6Z" fill="#a8bedb" stroke="#9a9a9a" stroke-width="0.5" stroke-linejoin="round"/>
<path d="M627.8,225.5L629.3,223.4L630.7,220.5L634.0,221.6L634.6,220.0L635.7,219.0L637.6,219.0L638.0,219.2L638.0,219.2L637.8,222.6L636.0,226.0L638.5,228.8L638.5,228.8L635.9,229.6L635.5,230.9L634.5,231.2L634.5,231.2L631.8,230.4L630.3,226.5L627.8,225.5ZM650.7,353.3L656.2,351.8L651.8,354.4L650.9,354.7Z" fill="#75a8cf" stroke="#9a9a9a" stroke-width="0.5" stroke-linejoin="round"/>
<path d="M332.4,306.1L332.6,307.6L334.2,310.2L336.7,311.7L336.7,311.7L337.6,310.4L338.6,308.9L338.8,307.8L338.8,307.8L338.6,307.6L338.4,305.5L337.2,303.6L334.2,303.9L332.4,306.1Z" fill="#3b8fc1" stroke="#9a9a9a" stroke-width="0.5" stroke-linejoin="round"/>
<path d="M423.0,407.2L425.4,404.9L427.5,405.4L428.3,407.2L426.1,409.8L423.7,409.1Z" fill="#fdf4f9" stroke="#9a9a9a" stroke-width="0.5" stroke-linejoin="round"/>
<path d="M432.0,398.9L433.3,397.0L434.8,397.6L434.9,399.9L432.8,401.2L431.9,399.9Z" fill="#fdf4f9" stroke="#9a9a9a" stroke-width="0.5" stroke-linejoin="round"/>
<path d="M324.6,294.2L324.7,294.5L324.6,295.4L324.6,295.4L327.5,294.9L329.8,295.1L331.4,294.7L331.4,294.7L331.4,294.4L329.8,294.0L327.5,293.7L324.6,294.2Z" fill="#e8e4f0" stroke="#9a9a9a" stroke-width="0.5" stroke-linejoin="round"/>
<g id="legend">
<rect x="98.5" y="516.5" width="48" height="12" fill="url(#hatch)" stroke="#c8c8c8" stroke-width="1"/>
<line x1="122.5" y1="513.5" x2="122.5" y2="516.5" stroke="#999" stroke-width="1"/>
<rect x="166.20" y="516.5" width="58.50" height="12" fill="#fdf4f9"/>
<rect x="224.70" y="516.5" width="58.50" height="12" fill="#e8e4f0"/>
<rect x="283.20" y="516.5" width="58.50" height="12" fill="#cfd1e6"/>
<rect x="341.70" y="516.5" width="58.50" height="12" fill="#a8bedb"/>
<rect x="400.20" y="516.5" width="58.50" height="12" fill="#75a8cf"/>
<rect x="458.70" y="516.5" width="58.50" height="12" fill="#3b8fc1"/>
<rect x="517.20" y="516.5" width="58.50" height="12" fill="#0a70b0"/>
<rect x="575.70" y="516.5" width="58.50" height="12" fill="#05598c"/>
<rect x="634.20" y="516.5" width="58.50" height="12" fill="#044877"/>
<rect x="692.70" y="516.5" width="58.50" height="12" fill="#02375a"/>
<rect x="166.2" y="516.5" width="585.0" height="12" fill="none" stroke="#c8c8c8" stroke-width="1"/>
<line x1="166.20" y1="513.5" x2="166.20" y2="528.5" stroke="#999" stroke-width="1"/>
<line x1="224.70" y1="513.5" x2="224.70" y2="528.5" stroke="#999" stroke-width="1"/>
<line x1="283.20" y1="513.5" x2="283.20" y2="528.5" stroke="#999" stroke-width="1"/>
<line x1="341.70" y1="513.5" x2="341.70" y2="528.5" stroke="#999" stroke-width="1"/>
<line x1="400.20" y1="513.5" x2="400.20" y2="528.5" stroke="#999" stroke-width="1"/>
<line x1="458.70" y1="513.5" x2="458.70" y2="528.5" stroke="#999" stroke-width="1"/>
<line x1="517.20" y1="513.5" x2="517.20" y2="528.5" stroke="#999" stroke-width="1"/>
<line x1="575.70" y1="513.5" x2="575.70" y2="528.5" stroke="#999" stroke-width="1"/>
<line x1="634.20" y1="513.5" x2="634.20" y2="528.5" stroke="#999" stroke-width="1"/>
<line x1="692.70" y1="513.5" x2="692.70" y2="528.5" stroke="#999" stroke-width="1"/>
<line x1="751.20" y1="513.5" x2="751.20" y2="528.5" stroke="#999" stroke-width="1"/>
</g>
</svg>
<div class="t foot" id="f1" style="left:17px;top:548.5px;letter-spacing:-0.31px"><b>Data source:</b> UNICEF (2022)</div>
<div class="t foot" id="f2" style="right:19px;top:548.5px;letter-spacing:-0.087px">OurWorldinData.org/diarrheal-diseases | CC BY</div>
<div class="t foot" id="f3" style="left:17px;top:568px;letter-spacing:-0.133px"><b>Note:</b> The prevalence of diarrhea may vary by season. Since surveys are administered at different times, data should be compared with caution.</div>
<div class="t leg" style="left:72.5px;top:499px;width:100px">No data</div>
<div class="t leg" style="left:116.20px;top:499px;width:100px">0%</div>
<div class="t leg" style="left:174.70px;top:499px;width:100px">10%</div>
<div class="t leg" style="left:233.20px;top:499px;width:100px">20%</div>
<div class="t leg" style="left:291.70px;top:499px;width:100px">30%</div>
<div class="t leg" style="left:350.20px;top:499px;width:100px">40%</div>
<div class="t leg" style="left:408.70px;top:499px;width:100px">50%</div>
<div class="t leg" style="left:467.20px;top:499px;width:100px">60%</div>
<div class="t leg" style="left:525.70px;top:499px;width:100px">70%</div>
<div class="t leg" style="left:584.20px;top:499px;width:100px">80%</div>
<div class="t leg" style="left:642.70px;top:499px;width:100px">90%</div>
<div class="t leg" style="left:701.20px;top:499px;width:100px">100%</div>
</body></html>
